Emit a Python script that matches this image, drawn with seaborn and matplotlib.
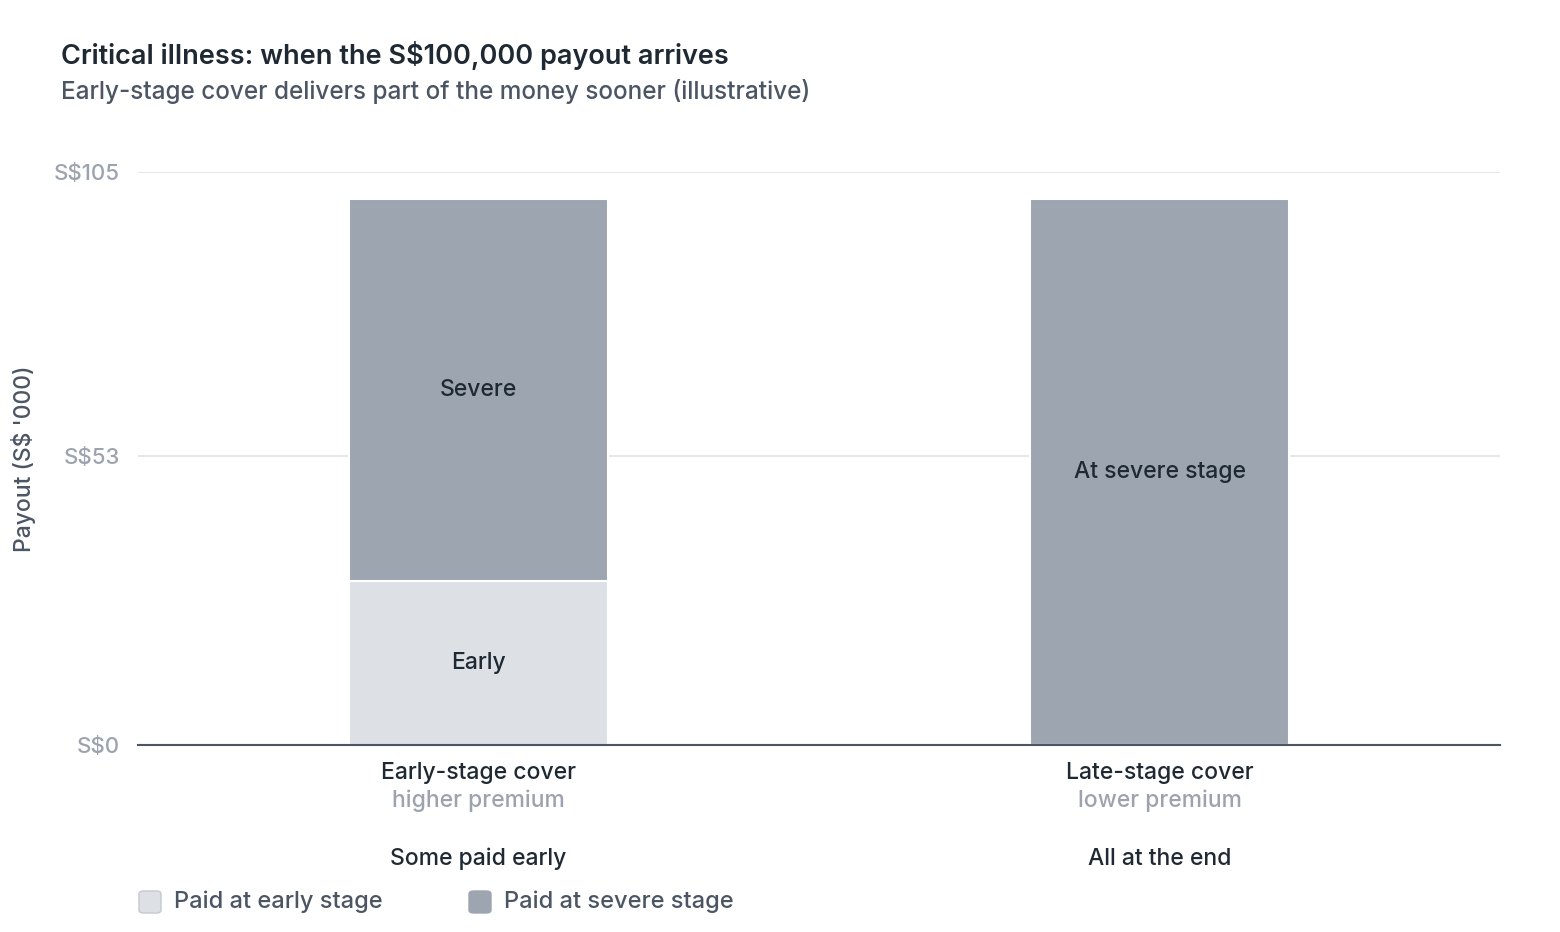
import seaborn as sns
import matplotlib.pyplot as plt
import pandas as pd
from matplotlib.patches import FancyBboxPatch

# data (S$ '000)
plans = ['Early-stage cover', 'Late-stage cover']
premium_notes = ['higher premium', 'lower premium']
timing_notes = ['Some paid early', 'All at the end']
early_paid = [30, 0]
severe_paid = [70, 100]
y_ticks = [0, 53, 105]

EARLY_COL = '#dde1e6'
SEVERE_COL = '#9ca5b0'
DARK = '#1f2933'
MID = '#4b5563'
LIGHT = '#9ca3af'

sns.set_theme(style='white')
plt.rcParams['font.family'] = ['Inter', 'DejaVu Sans']

df = pd.DataFrame({'plan': plans, 'early': early_paid, 'severe': severe_paid})
df['total'] = df['early'] + df['severe']

fig = plt.figure(figsize=(15.6, 9.32), dpi=100)
ax = fig.add_axes([138 / 1560, 1 - 745 / 932, 1362 / 1560, 573 / 932])

# stacked bars: full height in severe colour, early part on top of it
sns.barplot(data=df, x='plan', y='total', color=SEVERE_COL, width=0.38,
            edgecolor='white', linewidth=1.5, saturation=1, ax=ax, zorder=2)
sns.barplot(data=df, x='plan', y='early', color=EARLY_COL, width=0.38,
            edgecolor='white', linewidth=1.5, saturation=1, ax=ax, zorder=2.2)

ax.set_xlim(-0.5, 1.5)
ax.set_ylim(0, 105)
ax.set_yticks(y_ticks)
ax.set_yticklabels([f'S${t}' for t in y_ticks], color=LIGHT, fontsize=16,
                   fontweight='medium')
ax.tick_params(axis='y', length=0, pad=13)
ax.yaxis.grid(True, color='#e5e7eb', linewidth=1.5, zorder=0)
ax.set_axisbelow(True)
for s in ['top', 'right', 'left']:
    ax.spines[s].set_visible(False)
ax.spines['bottom'].set_color(MID)
ax.spines['bottom'].set_linewidth(1.5)
ax.spines['bottom'].set_zorder(5)

ax.set_xlabel('')
ax.set_xticks([0, 1])
ax.set_xticklabels([])
ax.tick_params(axis='x', length=0)
ax.set_ylabel("Payout (S$ '000)", color=MID, fontsize=16.5, fontweight='medium')
ax.yaxis.set_label_coords(-0.075, 0.5)

# segment labels
for i, (e, s) in enumerate(zip(early_paid, severe_paid)):
    if e > 0:
        ax.text(i, e / 2, 'Early', ha='center', va='center', fontsize=16.5,
                color=DARK, fontweight='medium', zorder=5)
        ax.text(i, e + s / 2, 'Severe', ha='center', va='center', fontsize=16.5,
                color=DARK, fontweight='medium', zorder=5)
    else:
        ax.text(i, s / 2, 'At severe stage', ha='center', va='center',
                fontsize=16.5, color=DARK, fontweight='medium', zorder=5)

# category labels below axis
trans = ax.get_xaxis_transform()
for i in range(len(plans)):
    ax.text(i, -0.048, plans[i], transform=trans, ha='center', va='center',
            fontsize=16.5, color=DARK, fontweight='medium')
    ax.text(i, -0.097, premium_notes[i], transform=trans, ha='center',
            va='center', fontsize=16.5, color=LIGHT, fontweight='medium')
    ax.text(i, -0.199, timing_notes[i], transform=trans, ha='center',
            va='center', fontsize=16.5, color=DARK, fontweight='medium')

# titles
fig.text(61 / 1560, 1 - 55 / 932, 'Critical illness: when the S$100,000 payout arrives',
         fontsize=19.5, color=DARK, va='center', ha='left', fontweight='semibold')
fig.text(61 / 1560, 1 - 91 / 932, 'Early-stage cover delivers part of the money sooner (illustrative)',
         fontsize=17.5, color=MID, va='center', ha='left', fontweight='medium')

# legend
legend_items = [('Paid at early stage', EARLY_COL, 139), ('Paid at severe stage', SEVERE_COL, 469)]
for label, col, x0 in legend_items:
    box = FancyBboxPatch((x0 / 1560, 1 - 913 / 932), 22 / 1560, 22 / 932,
                         boxstyle='round,pad=0,rounding_size=0.003',
                         transform=fig.transFigure, facecolor=col,
                         edgecolor='#c4c9d0' if col == EARLY_COL else col,
                         linewidth=1)
    fig.add_artist(box)
    fig.text((x0 + 35) / 1560, 1 - 902 / 932, label, fontsize=17, color=MID,
             va='center', ha='left', fontweight='medium')

fig.savefig('out.png', dpi=100, facecolor='white')
